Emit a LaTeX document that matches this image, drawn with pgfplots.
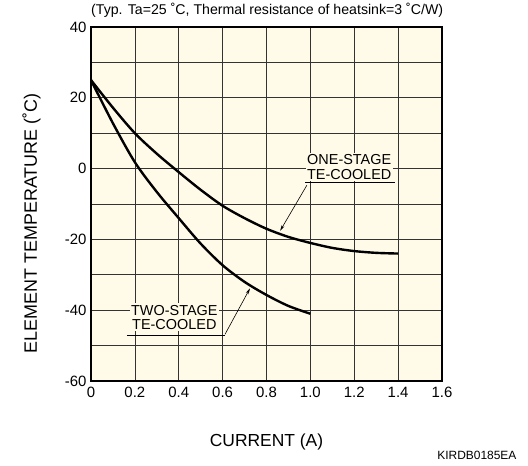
\documentclass[border=0pt]{standalone}
\usepackage{fontspec}
\setmainfont{Liberation Sans}
\usepackage{pgfplots}
\pgfplotsset{compat=1.18}
\usetikzlibrary{arrows.meta}
\definecolor{chartbg}{RGB}{255,251,232}

\begin{document}
\begin{tikzpicture}
\begin{axis}[
    name=ax, at={(0,0)}, anchor=south west,
    scale only axis, width=351bp, height=354bp,
    xmin=0, xmax=1.6, ymin=-60, ymax=40,
    xtick={0,0.2,0.4,0.6,0.8,1.0,1.2,1.4,1.6},
    xticklabels={0,0.2,0.4,0.6,0.8,1.0,1.2,1.4,1.6},
    ytick={-60,-40,-20,0,20,40},
    yticklabels={-60,-40,-20,0,20,40},
    minor ytick={-50,-30,-10,10,30},
    grid=both,
    major grid style={black!80, line width=0.6bp},
    minor grid style={black!80, line width=0.6bp},
    major tick length=0pt, minor tick length=0pt,
    axis line style={black, line width=1.4bp},
    axis background/.style={fill=chartbg},
    tick label style={font=\fontsize{15}{17}\selectfont},
    xticklabel style={yshift=-3bp},
    yticklabel style={xshift=-1bp},
    title={(Typ. Ta=25 ˚C, Thermal resistance of heatsink=3 ˚C/W)},
    title style={font=\fontsize{14.2}{16}\selectfont, at={(axis description cs:0.502,1)}, anchor=base, yshift=7bp},
    xlabel={CURRENT (A)},
    xlabel style={font=\fontsize{17.5}{20}\selectfont, at={(axis description cs:0.5,-0.172)}, anchor=center},
    ylabel={ELEMENT TEMPERATURE (˚C)},
    ylabel style={font=\fontsize{18}{20}\selectfont, at={(axis description cs:-0.1695,0.445)}, anchor=center},
    clip mode=individual,
]

% one-stage TE-cooled
\addplot[black, line width=2.4bp, smooth] coordinates {
    (0,25)(0.1,17.2)(0.2,10)(0.3,4.2)(0.4,-1)(0.5,-6)(0.6,-10.5)(0.7,-14)
    (0.8,-17)(0.9,-19.3)(1.0,-21)(1.1,-22.4)(1.2,-23.3)(1.3,-23.8)(1.4,-24)
};
% two-stage TE-cooled
\addplot[black, line width=2.4bp, smooth] coordinates {
    (0,25)(0.1,12.8)(0.2,1.8)(0.3,-6.6)(0.4,-14)(0.5,-21.2)(0.6,-27.3)
    (0.7,-32)(0.8,-35.7)(0.9,-38.8)(1.0,-41)
};

% labels with leader lines
\node[fill=chartbg, align=center, inner sep=1.5bp, font=\fontsize{14.5}{14.5}\selectfont]
    at (axis cs:1.177,0.4) {ONE-STAGE\\TE-COOLED};
\draw[line width=0.6bp] (axis cs:0.976,-3.9) -- (axis cs:1.387,-3.9);
\draw[line width=0.6bp, -{Stealth[length=6bp,width=3bp]}] (axis cs:0.984,-4.7) -- (axis cs:0.862,-17.6);

\node[fill=chartbg, align=center, inner sep=1.5bp, font=\fontsize{14.5}{14.5}\selectfont]
    at (axis cs:0.38,-42.0) {TWO-STAGE\\TE-COOLED};
\draw[line width=0.6bp] (axis cs:0.164,-47.1) -- (axis cs:0.611,-47.1);
\draw[line width=0.6bp, -{Stealth[length=6bp,width=3bp]}] (axis cs:0.611,-46.8) -- (axis cs:0.725,-33.8);

\node[anchor=east, font=\fontsize{12}{14}\selectfont] at (axis description cs:1.222,-0.2105) {KIRDB0185EA};
\end{axis}
\pgfresetboundingbox
\useasboundingbox (-91bp,-85bp) rectangle (437bp,381bp);
\end{tikzpicture}
\end{document}
